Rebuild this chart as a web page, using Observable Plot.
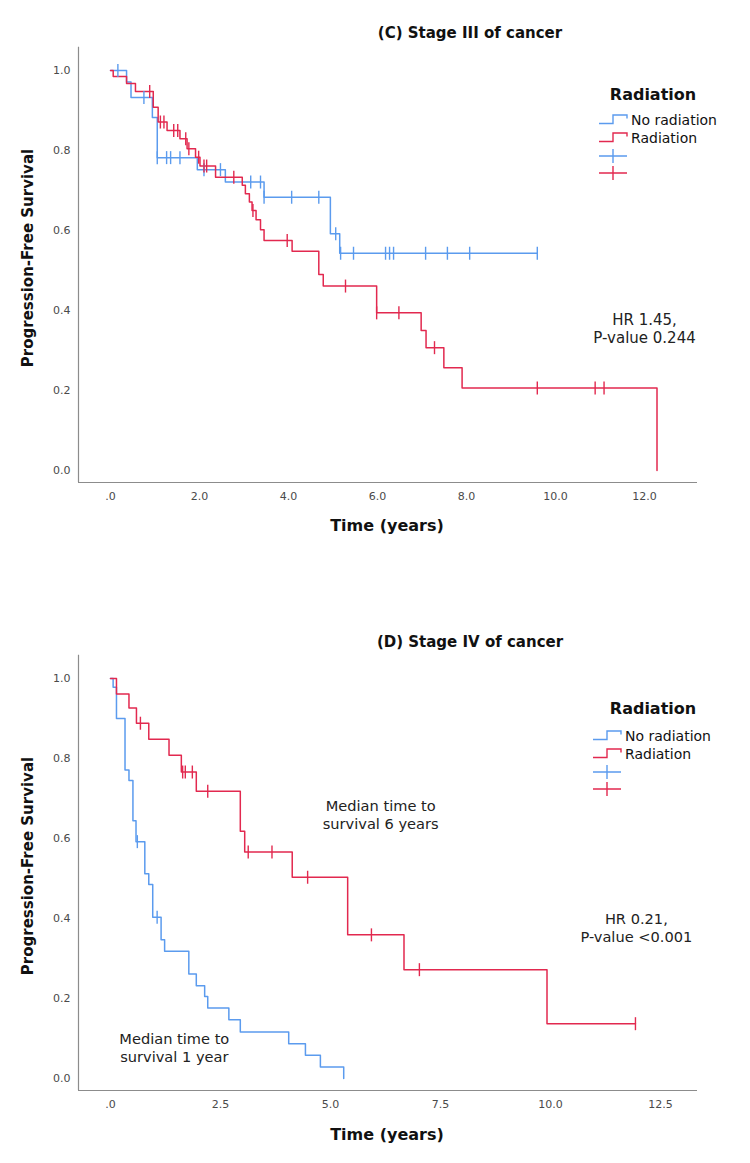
<!DOCTYPE html>
<html><head><meta charset="utf-8">
<script src="https://cdn.jsdelivr.net/npm/d3@7"></script>
<script src="https://cdn.jsdelivr.net/npm/@observablehq/plot@0.6"></script>
<style>
body{margin:0;background:#fff;font-family:"DejaVu Sans",sans-serif;}
#root{position:relative;width:750px;height:1163px;overflow:hidden;background:#fff;}
.panel{position:absolute;left:0;}
.lbl{position:absolute;white-space:nowrap;color:#111;font-weight:bold;transform:translate(-50%,-50%);}
.ylbl{transform:translate(-50%,-50%) rotate(-90deg);}
.leg{position:absolute;left:0;top:0;overflow:visible;}
</style>
</head><body><div id="root"></div>
<script>
// ---------------- DATA ----------------
const seriesNames = ["No radiation", "Radiation"];
const legendTitle = "Radiation";
const titles = ["(C) Stage III of cancer", "(D) Stage IV of cancer"];
const xLabel = "Time (years)";
const yLabel = "Progression-Free Survival";
const yTicks = [0, 0.2, 0.4, 0.6, 0.8, 1.0];
const xTicksC = [0, 2, 4, 6, 8, 10, 12];
const xTicksD = [0, 2.5, 5, 7.5, 10, 12.5];

// Stage III, no radiation (step times / survival after step)
const c_noRad_t = [0, 0.36, 0.46, 0.94, 1.05, 1.95, 2.58, 3.45, 4.94, 5.15, 9.59];
const c_noRad_s = [1.0, 0.971, 0.932, 0.882, 0.782, 0.752, 0.721, 0.683, 0.592, 0.543, 0.543];
const c_noRad_cens_t = [0.165, 0.75, 1.05, 1.26, 1.35, 1.56, 2.10, 2.47, 3.15, 3.37, 3.45, 4.07, 4.68, 5.06, 5.17, 5.46, 6.18, 6.27, 6.36, 7.08, 7.57, 8.07, 9.59];
const c_noRad_cens_s = [1.0, 0.932, 0.782, 0.782, 0.782, 0.782, 0.752, 0.752, 0.721, 0.721, 0.683, 0.683, 0.683, 0.592, 0.543, 0.543, 0.543, 0.543, 0.543, 0.543, 0.543, 0.543, 0.543];

// Stage III, radiation
const c_rad_t = [0, 0.06, 0.36, 0.56, 0.96, 1.07, 1.27, 1.56, 1.72, 1.91, 2.01, 2.36, 2.96, 3.03, 3.12, 3.18, 3.27, 3.37, 3.45, 4.08, 4.68, 4.78, 5.98, 6.98, 7.09, 7.49, 7.90, 12.28];
const c_rad_s = [1.0, 0.985, 0.967, 0.947, 0.908, 0.871, 0.85, 0.829, 0.804, 0.783, 0.761, 0.733, 0.713, 0.692, 0.671, 0.65, 0.627, 0.602, 0.575, 0.548, 0.49, 0.461, 0.394, 0.35, 0.307, 0.257, 0.206, 0];
const c_rad_cens_t = [0.88, 1.12, 1.20, 1.42, 1.51, 1.69, 1.76, 1.98, 2.10, 2.16, 2.77, 3.20, 3.97, 5.28, 5.98, 6.48, 7.28, 9.59, 10.89, 11.09];
const c_rad_cens_s = [0.947, 0.871, 0.871, 0.85, 0.85, 0.829, 0.804, 0.783, 0.761, 0.761, 0.733, 0.65, 0.575, 0.461, 0.394, 0.394, 0.307, 0.206, 0.206, 0.206];

// Stage IV, no radiation
const d_noRad_t = [0, 0.06, 0.136, 0.33, 0.42, 0.51, 0.58, 0.78, 0.87, 0.96, 1.15, 1.23, 1.78, 1.95, 2.14, 2.21, 2.69, 2.95, 4.05, 4.43, 4.77, 5.30];
const d_noRad_s = [1.0, 0.978, 0.90, 0.771, 0.745, 0.644, 0.592, 0.512, 0.485, 0.403, 0.347, 0.318, 0.261, 0.232, 0.205, 0.176, 0.147, 0.116, 0.087, 0.058, 0.029, 0];
const d_noRad_cens_t = [0.61, 1.06];
const d_noRad_cens_s = [0.592, 0.403];

// Stage IV, radiation
const d_rad_t = [0, 0.136, 0.42, 0.59, 0.87, 1.33, 1.61, 1.95, 2.95, 3.05, 4.13, 5.39, 6.67, 9.92, 11.93];
const d_rad_s = [1.0, 0.961, 0.926, 0.888, 0.848, 0.808, 0.766, 0.718, 0.618, 0.566, 0.503, 0.359, 0.272, 0.137, 0.137];
const d_rad_cens_t = [0.68, 1.64, 1.70, 1.86, 2.21, 3.13, 3.67, 4.48, 5.93, 7.02, 11.93];
const d_rad_cens_s = [0.888, 0.766, 0.766, 0.766, 0.718, 0.566, 0.566, 0.503, 0.359, 0.272, 0.137];

// Annotations (text + anchor in data units)
const annotC_text = ["HR 1.45,\nP-value 0.244"];
const annotC_t = [12.0];
const annotC_s = [0.356];
const annotD_text = ["HR 0.21,\nP-value <0.001", "Median time to\nsurvival 6 years", "Median time to\nsurvival 1 year"];
const annotD_t = [11.95, 6.14, 1.45];
const annotD_s = [0.378, 0.66, 0.0775];

// ---------------- STYLE / LAYOUT ----------------
const BLUE = "#5b9bee";
const RED = "#e2294f";
const FONT = "DejaVu Sans, sans-serif";
const Y_DOMAIN = [-0.03, 1.058];
const X_DOMAIN_C = [-0.72, 13.19];
const X_DOMAIN_D = [-0.727, 13.34];

const zipTS = (t, s) => t.map((v, i) => ({t: v, s: s[i]}));
const censorSymbol = {draw(ctx, size) { const r = Math.sqrt(size / Math.PI); ctx.moveTo(0, -r); ctx.lineTo(0, r); ctx.moveTo(0,-r); }};
const fmtX = d => d === 0 ? ".0" : d.toFixed(1);

function panel(o) {
  return Plot.plot({
    width: 750, height: o.height,
    marginLeft: 78, marginRight: 53, marginTop: o.marginTop, marginBottom: o.marginBottom,
    style: {fontFamily: FONT, fontSize: "11px", color: "#4a4a4a", background: "white", overflow: "visible"},
    x: {domain: o.xDomain, ticks: o.xTicks, tickFormat: fmtX, tickSize: 0, tickPadding: 10, label: null},
    y: {domain: Y_DOMAIN, ticks: yTicks, tickFormat: d3.format(".1f"), tickSize: 0, tickPadding: 8, label: null},
    marks: [
      Plot.ruleX([o.xDomain[0]], {stroke: "#8c8c8c", strokeWidth: 1.2}),
      Plot.ruleY([Y_DOMAIN[0]], {stroke: "#8c8c8c", strokeWidth: 1.2}),
      Plot.line(o.blue, {x: "t", y: "s", curve: "step-after", stroke: BLUE, strokeWidth: 1.5}),
      Plot.line(o.red, {x: "t", y: "s", curve: "step-after", stroke: RED, strokeWidth: 1.5}),
      Plot.dot(o.blueC, {x: "t", y: "s", symbol: censorSymbol, r: 6.5, stroke: BLUE, fill: "none", strokeWidth: 1.4}),
      Plot.dot(o.redC, {x: "t", y: "s", symbol: censorSymbol, r: 6.5, stroke: RED, fill: "none", strokeWidth: 1.4}),
      Plot.text(o.annot, {x: "t", y: "s", text: "label", fontSize: o.annotSize, fill: "#222", lineHeight: 1.25, textAnchor: "middle"})
    ]
  });
}

const root = document.getElementById("root");
function place(el, top) { el.classList.add("panel"); el.style.top = top + "px"; root.appendChild(el); }

const svgC = panel({
  height: 580, marginTop: 46.7, marginBottom: 98, xDomain: X_DOMAIN_C, xTicks: xTicksC,
  blue: zipTS(c_noRad_t, c_noRad_s), red: zipTS(c_rad_t, c_rad_s),
  blueC: zipTS(c_noRad_cens_t, c_noRad_cens_s), redC: zipTS(c_rad_cens_t, c_rad_cens_s),
  annot: annotC_text.map((l, i) => ({label: l, t: annotC_t[i], s: annotC_s[i]})), annotSize: 15
});
place(svgC, 0);
const svgD = panel({
  height: 583, marginTop: 74.7, marginBottom: 73, xDomain: X_DOMAIN_D, xTicks: xTicksD,
  blue: zipTS(d_noRad_t, d_noRad_s), red: zipTS(d_rad_t, d_rad_s),
  blueC: zipTS(d_noRad_cens_t, d_noRad_cens_s), redC: zipTS(d_rad_cens_t, d_rad_cens_s),
  annot: annotD_text.map((l, i) => ({label: l, t: annotD_t[i], s: annotD_s[i]})), annotSize: 14.6
});
place(svgD, 580);

function label(text, x, y, size, cls) {
  const d = document.createElement("div");
  d.className = "lbl" + (cls ? " " + cls : "");
  d.textContent = text;
  d.style.left = x + "px"; d.style.top = y + "px"; d.style.fontSize = size + "px";
  root.appendChild(d);
}
label(titles[0], 470, 33, 15);
label(titles[1], 470, 642, 15);
label(xLabel, 387, 525, 16);
label(xLabel, 387, 1134, 16);
label(yLabel, 28, 258, 15, "ylbl");
label(yLabel, 28, 866, 15, "ylbl");

// Legends
const NS = "http://www.w3.org/2000/svg";
function legend(x0, titleY, rowY, textX) {
  const svg = document.createElementNS(NS, "svg");
  svg.setAttribute("class", "leg"); svg.setAttribute("width", 750); svg.setAttribute("height", 1163);
  const add = (tag, attrs, txt) => { const e = document.createElementNS(NS, tag); for (const k in attrs) e.setAttribute(k, attrs[k]); if (txt) e.textContent = txt; svg.appendChild(e); return e; };
  add("text", {x: 653, y: titleY, "text-anchor": "middle", "dominant-baseline": "central", "font-family": FONT, "font-size": 16, "font-weight": "bold", fill: "#111"}, legendTitle);
  const cols = [BLUE, RED];
  cols.forEach((c, i) => {
    const y = rowY[i];
    add("path", {d: `M${x0},${y+3.5}H${x0+14}V${y-5}H${x0+28}V${y-1.5}`, fill: "none", stroke: c, "stroke-width": 1.4});
    add("text", {x: textX, y: y, "dominant-baseline": "central", "font-family": FONT, "font-size": 14, fill: "#111"}, seriesNames[i]);
  });
  cols.forEach((c, i) => {
    const y = rowY[i + 2];
    add("path", {d: `M${x0},${y}H${x0+28}M${x0+14},${y-7}V${y+7}`, fill: "none", stroke: c, "stroke-width": 1.4});
  });
  root.appendChild(svg);
}
legend(599, 94, [120, 138, 156, 173], 631);
legend(593, 708, [736, 754, 772, 789], 625);
</script>
</body></html>
